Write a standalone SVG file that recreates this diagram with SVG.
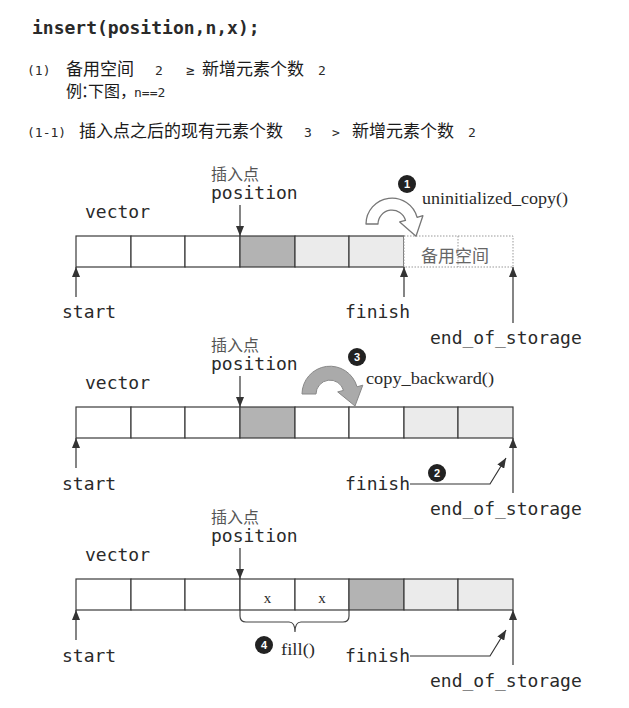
<svg xmlns="http://www.w3.org/2000/svg" width="629" height="708" viewBox="0 0 629 708">
<style>
.mono{font-family:"DejaVu Sans Mono","Liberation Mono",monospace;fill:#2a2a2a}
.cjk{font-family:"Noto Sans CJK SC","Noto Sans",sans-serif;fill:#1a1a1a}
.serif{font-family:"Liberation Serif","DejaVu Serif",serif;fill:#2a2a2a}
.cell{stroke:#3a3a3a;stroke-width:1.2}
.w{fill:#fff}
.d{fill:#b3b3b3}
.l{fill:#ebebeb}
.ptr{stroke:#333;stroke-width:1.2;fill:none}
.badge{fill:#222}
.num{font-family:"Liberation Sans",sans-serif;font-weight:bold;font-size:11px;fill:#fff;text-anchor:middle}
</style>
<defs>
<marker id="ah" viewBox="0 0 10 8" refX="10" refY="4" markerWidth="10" markerHeight="8" markerUnits="userSpaceOnUse" orient="auto"><path d="M0,0 L10,4 L0,8 z" fill="#333"/></marker>
</defs>
<rect width="629" height="708" fill="#fff"/>
<g id="header">
<text class="mono" x="32" y="34" font-size="18" font-weight="bold">insert(position,n,x);</text>
<text class="mono" x="27" y="75" font-size="13">(1)</text>
<text class="cjk" x="66" y="75" font-size="17">备用空间</text>
<text class="mono" x="155" y="75" font-size="13">2</text>
<text class="mono" x="186" y="75" font-size="14">≥</text>
<text class="cjk" x="202" y="75" font-size="17">新增元素个数</text>
<text class="mono" x="318" y="75" font-size="13">2</text>
<text class="cjk" x="66" y="97" font-size="16">例</text>
<text class="cjk" x="81" y="97" font-size="16">：</text>
<text class="cjk" x="88" y="97" font-size="16">下图</text>
<text class="cjk" x="120" y="97" font-size="16">，</text>
<text class="mono" x="134" y="97" font-size="13">n==2</text>
<text class="mono" x="27" y="137" font-size="13">(1-1)</text>
<text class="cjk" x="79" y="137" font-size="17">插入点之后的现有元素个数</text>
<text class="mono" x="304" y="137" font-size="13">3</text>
<text class="mono" x="332" y="137" font-size="13">&gt;</text>
<text class="cjk" x="352" y="137" font-size="17">新增元素个数</text>
<text class="mono" x="468" y="137" font-size="13">2</text>
</g>

<g id="state1">
<text class="mono" x="85" y="218" font-size="18">vector</text>
<text class="cjk" x="211" y="180" font-size="16" style="fill:#555">插入点</text>
<text class="mono" x="211" y="199" font-size="18">position</text>
<rect class="cell w" x="76" y="236" width="55" height="31"/>
<rect class="cell w" x="131" y="236" width="54" height="31"/>
<rect class="cell w" x="185" y="236" width="55" height="31"/>
<rect class="cell d" x="240" y="236" width="55" height="31"/>
<rect class="cell l" x="295" y="236" width="54" height="31"/>
<rect class="cell l" x="349" y="236" width="55" height="31"/>
<rect x="404" y="236" width="109" height="31" fill="#fff" stroke="#999" stroke-width="1" stroke-dasharray="1.5,1.5"/>
<line x1="458" y1="236" x2="458" y2="267" stroke="#999" stroke-width="1" stroke-dasharray="1.5,1.5"/>
<text class="cjk" x="421" y="262" font-size="17" style="fill:#666">备用空间</text>
<text class="mono" x="62" y="318" font-size="18">start</text>
<text class="mono" x="345" y="318" font-size="18">finish</text>
<text class="mono" x="430" y="344" font-size="18">end_of_storage</text>
<path d="M366,224 A26,26 0 0 1 417.1,217.3 L422.9,215.7 L416,236.2 L399.7,221.9 L405.5,220.4 A14,14 0 0 0 378,224 Z" fill="#fff" stroke="#777" stroke-width="1.3" stroke-linejoin="round"/>
<circle class="badge" cx="407" cy="184" r="9"/>
<text class="num" x="407" y="188">1</text>
<text class="serif" x="422" y="204" font-size="16" textLength="146" lengthAdjust="spacingAndGlyphs">uninitialized_copy()</text>
</g>

<g id="state2">
<text class="mono" x="85" y="389" font-size="18">vector</text>
<text class="cjk" x="211" y="351" font-size="16" style="fill:#555">插入点</text>
<text class="mono" x="211" y="370" font-size="18">position</text>
<rect class="cell w" x="76" y="407" width="55" height="31"/>
<rect class="cell w" x="131" y="407" width="54" height="31"/>
<rect class="cell w" x="185" y="407" width="55" height="31"/>
<rect class="cell d" x="240" y="407" width="55" height="31"/>
<rect class="cell w" x="295" y="407" width="54" height="31"/>
<rect class="cell w" x="349" y="407" width="55" height="31"/>
<rect class="cell l" x="404" y="407" width="54" height="31"/>
<rect class="cell l" x="458" y="407" width="55" height="31"/>
<text class="mono" x="62" y="490" font-size="18">start</text>
<text class="mono" x="345" y="490" font-size="18">finish</text>
<text class="mono" x="430" y="515" font-size="18">end_of_storage</text>
<path d="M302,394 A28,28 0 0 1 357,386.8 L362.8,385.2 L355,406 L337.7,391.9 L343.5,390.4 A14,14 0 0 0 316,394 Z" fill="#aaa" stroke="#888" stroke-width="1" stroke-linejoin="round"/>
<circle class="badge" cx="357" cy="357" r="9"/>
<text class="num" x="357" y="361">3</text>
<text class="serif" x="366" y="384" font-size="16" textLength="128" lengthAdjust="spacingAndGlyphs">copy_backward()</text>
<circle class="badge" cx="437" cy="473" r="9"/>
<text class="num" x="437" y="477">2</text>
</g>

<g id="state3">
<text class="mono" x="85" y="561" font-size="18">vector</text>
<text class="cjk" x="211" y="523" font-size="16" style="fill:#555">插入点</text>
<text class="mono" x="211" y="542" font-size="18">position</text>
<rect class="cell w" x="76" y="579" width="55" height="31"/>
<rect class="cell w" x="131" y="579" width="54" height="31"/>
<rect class="cell w" x="185" y="579" width="55" height="31"/>
<rect class="cell w" x="240" y="579" width="55" height="31"/>
<rect class="cell w" x="295" y="579" width="54" height="31"/>
<rect class="cell d" x="349" y="579" width="55" height="31"/>
<rect class="cell l" x="404" y="579" width="54" height="31"/>
<rect class="cell l" x="458" y="579" width="55" height="31"/>
<text class="serif" x="267.5" y="603" font-size="15" text-anchor="middle">x</text>
<text class="serif" x="322" y="603" font-size="15" text-anchor="middle">x</text>
<path d="M240,610 V616 Q240,622 246,622 H289 Q295,622 295,632 Q295,622 301,622 H343 Q349,622 349,616 V610" fill="none" stroke="#444" stroke-width="1.2"/>
<circle class="badge" cx="264" cy="645" r="9"/>
<text class="num" x="264" y="649">4</text>
<text class="serif" x="281" y="655" font-size="17" textLength="34" lengthAdjust="spacingAndGlyphs">fill()</text>
<text class="mono" x="62" y="662" font-size="18">start</text>
<text class="mono" x="345" y="662" font-size="18">finish</text>
<text class="mono" x="430" y="687" font-size="18">end_of_storage</text>
</g>

<g id="connectors">
<line class="ptr" x1="240" y1="205" x2="240" y2="236" marker-end="url(#ah)"/>
<line class="ptr" x1="76" y1="297" x2="76" y2="267" marker-end="url(#ah)"/>
<line class="ptr" x1="404" y1="297" x2="404" y2="267" marker-end="url(#ah)"/>
<line class="ptr" x1="513" y1="323" x2="513" y2="267" marker-end="url(#ah)"/>

<line class="ptr" x1="240" y1="376" x2="240" y2="407" marker-end="url(#ah)"/>
<line class="ptr" x1="76" y1="468" x2="76" y2="438" marker-end="url(#ah)"/>
<line class="ptr" x1="513" y1="493" x2="513" y2="438" marker-end="url(#ah)"/>
<polyline class="ptr" points="410,484 490,484 506,458" marker-end="url(#ah)"/>

<line class="ptr" x1="240" y1="548" x2="240" y2="579" marker-end="url(#ah)"/>
<line class="ptr" x1="76" y1="640" x2="76" y2="610" marker-end="url(#ah)"/>
<line class="ptr" x1="513" y1="665" x2="513" y2="610" marker-end="url(#ah)"/>
<polyline class="ptr" points="410,656 490,656 506,630" marker-end="url(#ah)"/>
</g>
</svg>
